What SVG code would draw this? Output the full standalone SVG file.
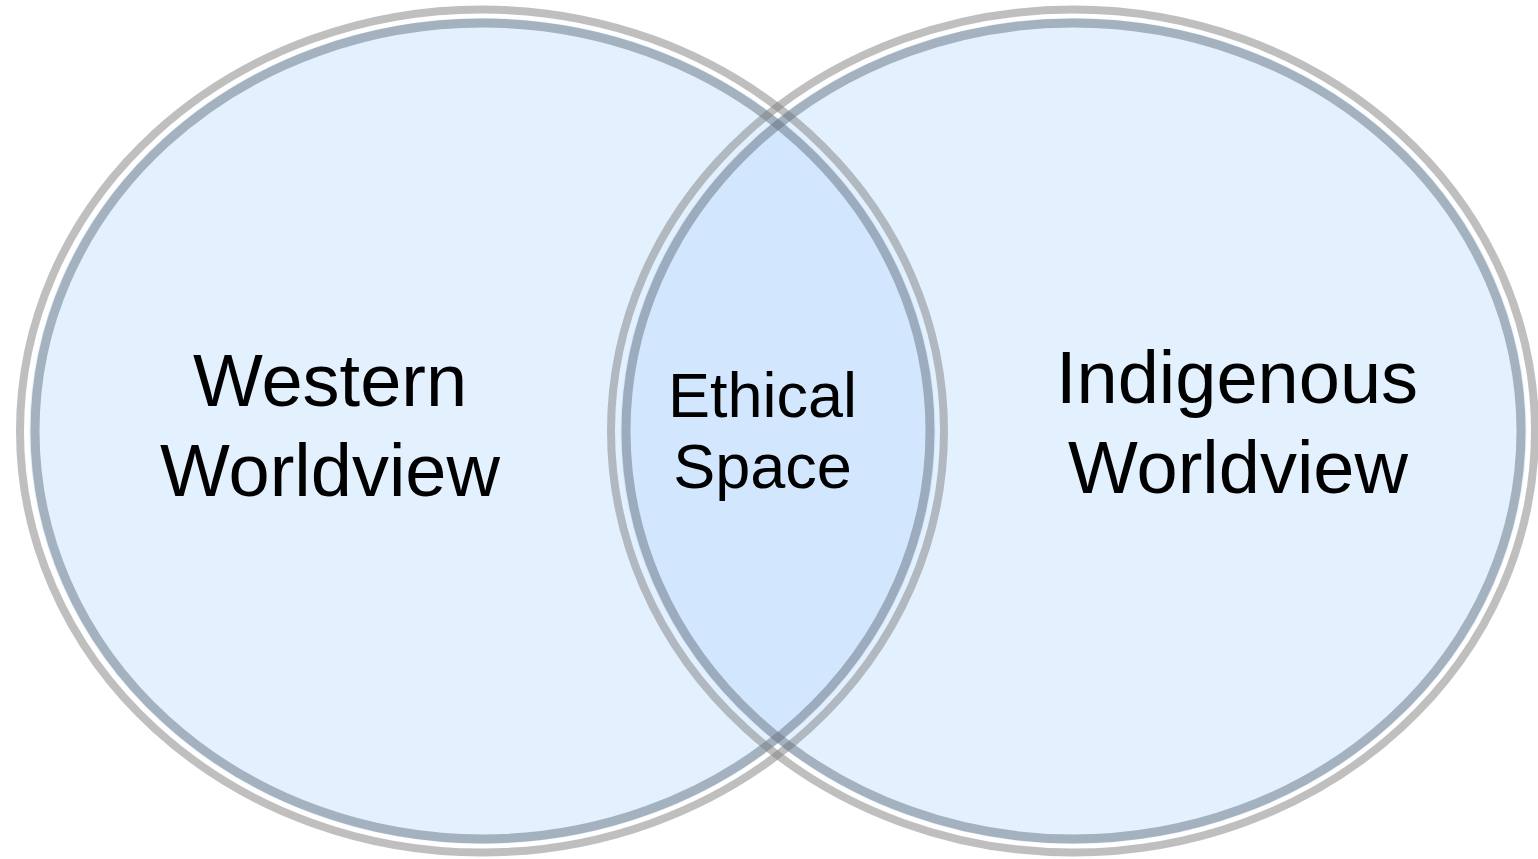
<svg xmlns="http://www.w3.org/2000/svg" width="1538" height="859" viewBox="0 0 1538 859">
<style>
.fill{fill:#B8D9FD;fill-opacity:0.4;stroke:none}
.outer{fill:none;stroke:#7F7F7F;stroke-opacity:0.5;stroke-width:8}
.inner{fill:none;stroke:#66717F;stroke-opacity:0.5;stroke-width:9}
.lbl{font-family:"Liberation Sans",Arial,sans-serif;fill:#000;text-anchor:middle}
</style>
<rect width="1538" height="859" fill="#fff"/>
<g id="western">
<ellipse class="fill" cx="482.5" cy="431" rx="453" ry="413"/>
</g>
<g id="indigenous">
<ellipse class="fill" cx="1073.5" cy="431" rx="453" ry="413"/>
</g>
<g id="western-rings">
<ellipse class="outer" cx="482" cy="431" rx="462" ry="421.5"/>
<ellipse class="inner" cx="482.5" cy="431" rx="447.5" ry="408"/>
</g>
<g id="indigenous-rings">
<ellipse class="outer" cx="1073" cy="431" rx="462" ry="421.5"/>
<ellipse class="inner" cx="1073.5" cy="431" rx="447.5" ry="408"/>
</g>
<g id="western-label">
<text class="lbl" x="330" y="406" font-size="74">Western</text>
<text class="lbl" x="330" y="496" font-size="74">Worldview</text>
</g>
<g id="indigenous-label">
<text class="lbl" x="1237" y="403" font-size="74">Indigenous</text>
<text class="lbl" x="1238" y="493" font-size="74">Worldview</text>
</g>
<g id="ethical-space">
<text class="lbl" x="762.5" y="417" font-size="63">Ethical</text>
<text class="lbl" x="762.5" y="488" font-size="63">Space</text>
</g>
<g id="connectors"></g>
</svg>
